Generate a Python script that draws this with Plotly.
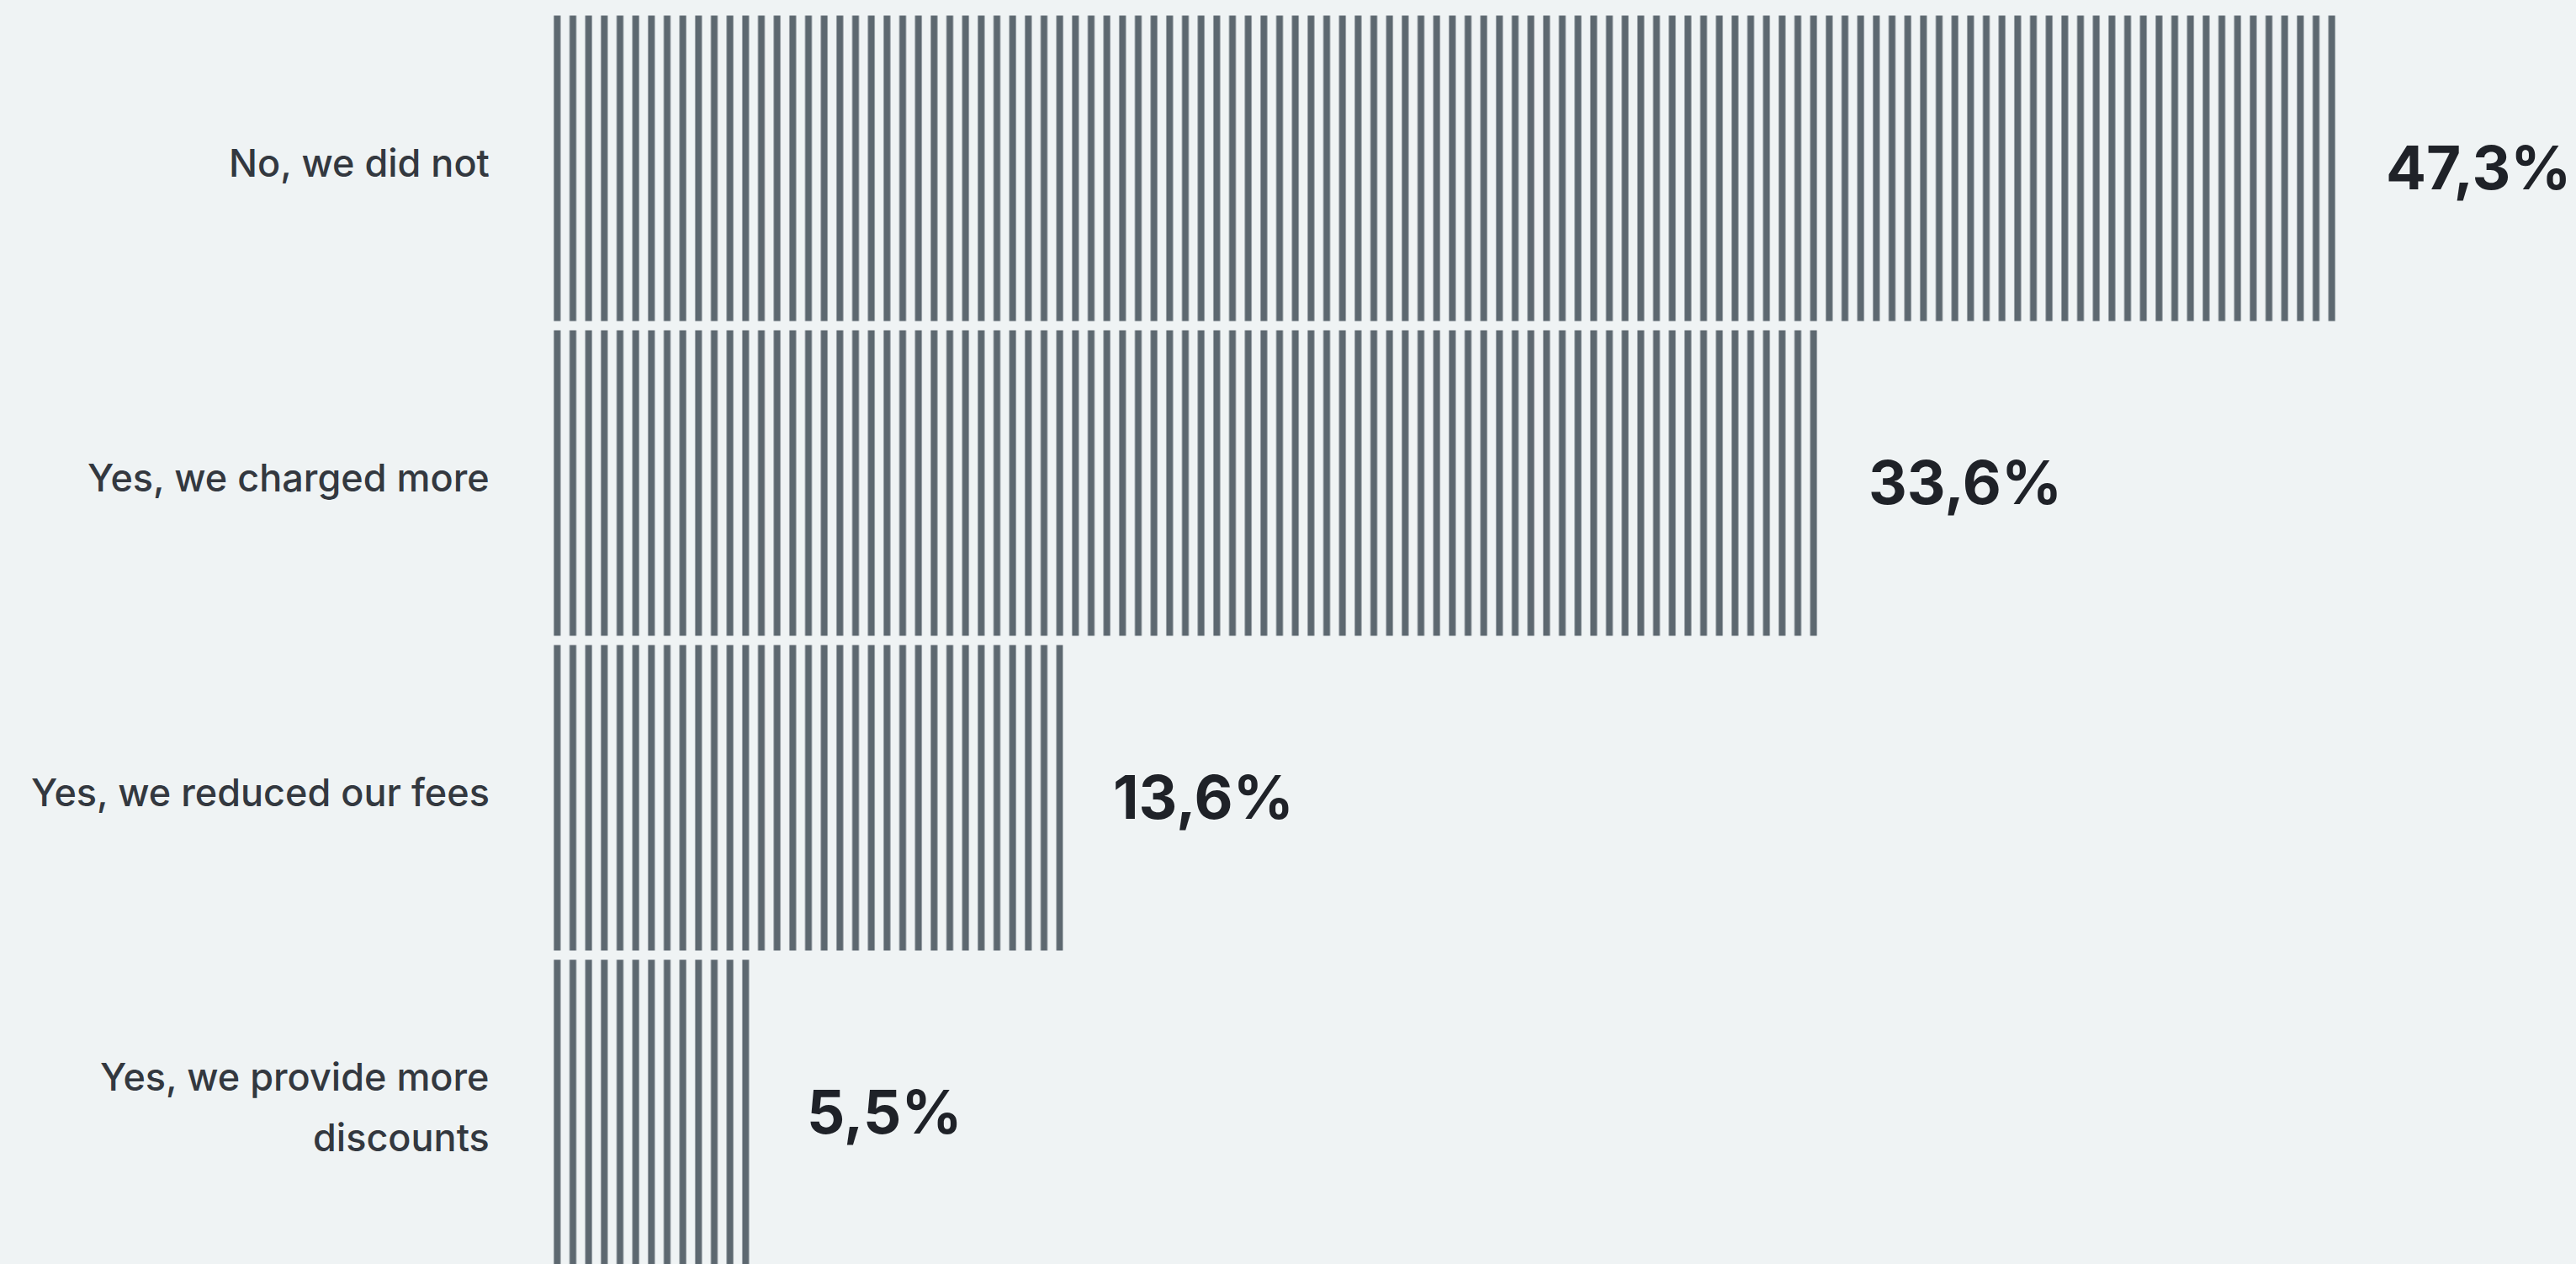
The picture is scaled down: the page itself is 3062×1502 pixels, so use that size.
import plotly.graph_objects as go

# ---- data ----
categories = [
    "No, we did not",
    "Yes, we charged more",
    "Yes, we reduced our fees",
    "Yes, we provide more<br>discounts",
]
values = [47.3, 33.6, 13.6, 5.5]
value_labels = ["47,3%", "33,6%", "13,6%", "5,5%"]

# ---- style ----
BG = "#eff3f4"
BAR = "#5d6870"
LABEL_COLOR = "#33383f"
VALUE_COLOR = "#1f2228"
W, H = 3062, 1502
ML, MT = 653, 13
PLOT_W = W - ML
PX_PER_UNIT = 44.9
SLOT = 374.0
STRIPE_PERIOD = 18.667
STRIPE_W = 8.0

fig = go.Figure()
fig.add_trace(go.Bar(
    y=categories,
    x=values,
    orientation="h",
    marker=dict(
        color=BAR,
        line=dict(width=0),
        pattern=dict(
            shape="|",
            size=STRIPE_PERIOD,
            solidity=STRIPE_W / STRIPE_PERIOD,
            fgcolor=BAR,
            bgcolor="rgba(0,0,0,0)",
            fillmode="replace",
        ),
    ),
    hoverinfo="skip",
    showlegend=False,
))

annotations = []
# value labels
for cat, v, lab in zip(categories, values, value_labels):
    annotations.append(dict(
        x=v, y=cat, xref="x", yref="y",
        text=lab, showarrow=False,
        xanchor="left", yanchor="middle", xshift=57, yshift=1,
        font=dict(family="Inter", size=71, color=VALUE_COLOR, weight=700),
    ))
# category labels (one annotation per line)
LINE_GAP = 72
for cat in categories:
    lines = cat.split("<br>")
    n = len(lines)
    for i, line in enumerate(lines):
        annotations.append(dict(
            x=0, y=cat, xref="paper", yref="y",
            text=line, showarrow=False,
            xanchor="right", yanchor="middle",
            xshift=-69, yshift=((n - 1) / 2 - i) * LINE_GAP + 7,
            font=dict(family="Inter", size=45, color=LABEL_COLOR, weight=500),
        ))

plot_h = H - MT
fig.update_layout(
    width=W, height=H,
    margin=dict(l=ML, r=0, t=MT, b=0, pad=0),
    paper_bgcolor=BG,
    plot_bgcolor=BG,
    bargap=11 / SLOT,
    xaxis=dict(range=[0, PLOT_W / PX_PER_UNIT], visible=False, fixedrange=True),
    yaxis=dict(
        type="category",
        range=[-0.5 + plot_h / SLOT, -0.5],
        visible=False,
        fixedrange=True,
    ),
    annotations=annotations,
    hovermode=False,
)

fig.write_html("out.html")
